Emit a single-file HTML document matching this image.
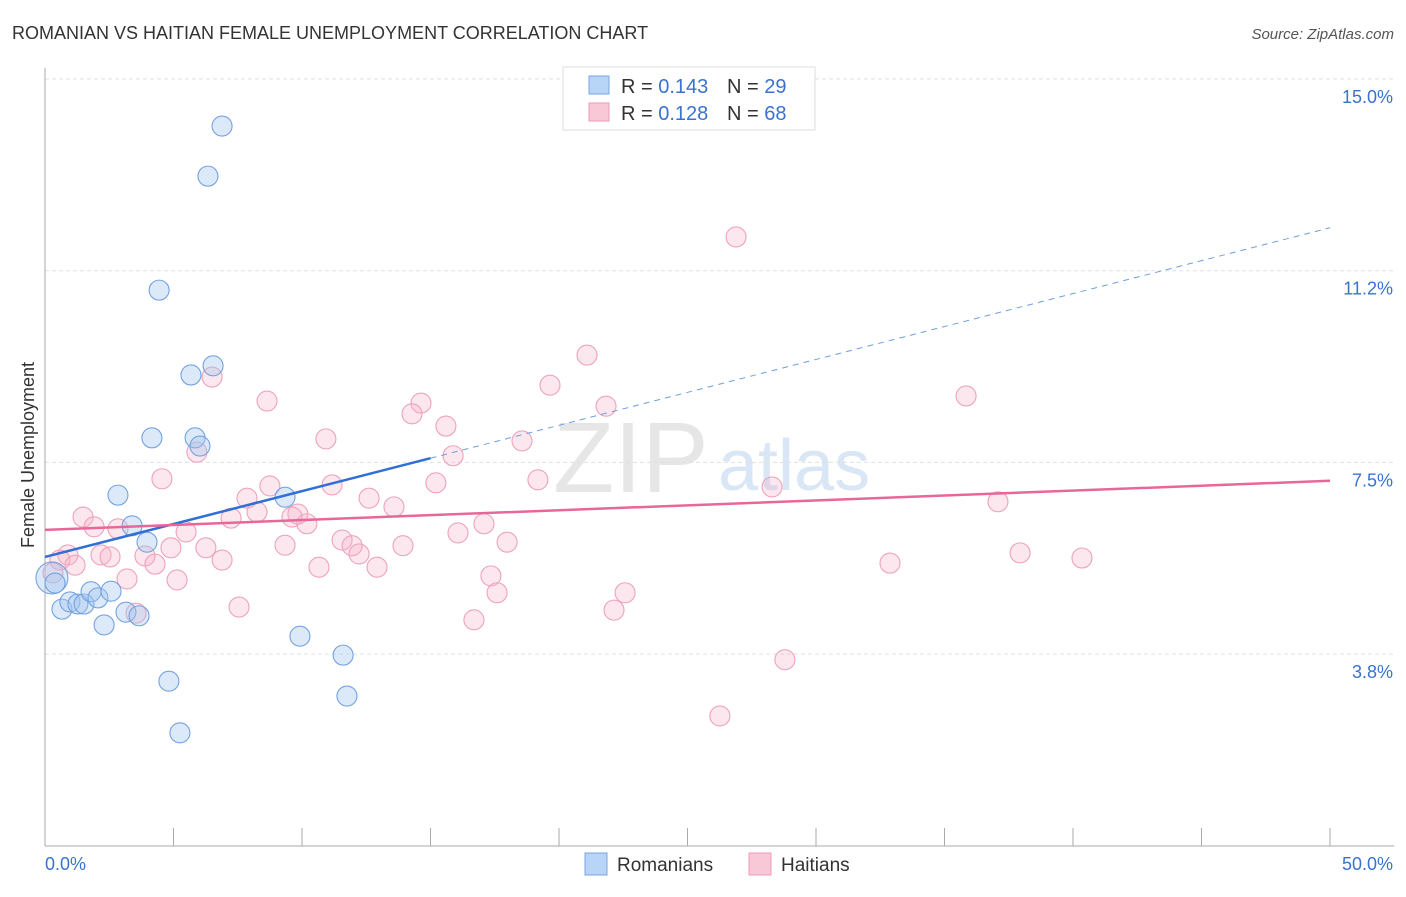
<!DOCTYPE html>
<html><head><meta charset="utf-8"><style>
body{margin:0;background:#fff;font-family:"Liberation Sans",sans-serif}
svg text{font-family:"Liberation Sans",sans-serif}
</style></head><body>
<svg width="1406" height="892" xmlns="http://www.w3.org/2000/svg">
<text x="12" y="39" font-size="18" fill="#333">ROMANIAN VS HAITIAN FEMALE UNEMPLOYMENT CORRELATION CHART</text>
<text x="1394" y="39" font-size="15" fill="#555" text-anchor="end" font-style="italic">Source: ZipAtlas.com</text>
<text x="553" y="492" font-size="100" fill="#e6e6e6" font-family="Liberation Serif">ZIP</text>
<text x="718" y="490" font-size="72" fill="#d9e6f5">atlas</text>
<g id="grid"></g>
<g id="axes"></g>
<g id="pts"></g>
<g id="trends"></g>
<text transform="translate(34,455) rotate(-90)" font-size="18" fill="#333" text-anchor="middle">Female Unemployment</text>
<g>
<rect x="563" y="67" width="252" height="63" fill="#fff" stroke="#ddd"/>
<rect x="589" y="76" width="20" height="18" fill="#b8d4f6" stroke="#7aa6e0"/>
<text x="621" y="93" font-size="20" fill="#333">R = <tspan fill="#3a72d0">0.143</tspan></text>
<text x="727" y="93" font-size="20" fill="#333">N = <tspan fill="#3a72d0">29</tspan></text>
<rect x="589" y="103" width="20" height="18" fill="#f8c8d6" stroke="#eb9ab4"/>
<text x="621" y="120" font-size="20" fill="#333">R = <tspan fill="#3a72d0">0.128</tspan></text>
<text x="727" y="120" font-size="20" fill="#333">N = <tspan fill="#3a72d0">68</tspan></text>
</g>
<g>
<rect x="585" y="853" width="22" height="22" fill="#b8d4f6" stroke="#7aa6e0"/>
<text x="617" y="871" font-size="19" fill="#333">Romanians</text>
<rect x="749" y="853" width="22" height="22" fill="#f8c8d6" stroke="#eb9ab4"/>
<text x="781" y="871" font-size="19" fill="#333">Haitians</text>
</g>
</svg>
<script>
const yTicks=[15.0,11.25,7.5,3.75];
const yTickLabels=["15.0%","11.2%","7.5%","3.8%"];
const xTickVals=[0,5,10,15,20,25,30,35,40,45,50];
const romX=[6.89,6.34,4.44,6.54,5.68,4.16,5.84,6.03,2.84,9.34,3.39,3.97,0.27,0.39,0.66,0.97,1.28,1.52,1.79,2.06,2.57,2.30,3.15,3.66,9.92,11.6,4.82,11.75,5.25];
const romY=[14.08,13.10,10.87,9.39,9.21,7.98,7.98,7.82,6.86,6.82,6.26,5.94,5.24,5.14,4.63,4.77,4.73,4.73,4.97,4.85,4.98,4.32,4.57,4.50,4.10,3.73,3.22,2.93,2.21];
const haiX=[26.89,21.09,19.65,6.50,35.84,8.64,14.63,21.83,14.28,15.60,10.93,18.56,5.91,15.88,4.55,15.21,19.18,8.75,11.17,28.29,7.86,12.61,37.08,13.58,8.25,7.24,9.84,9.61,1.48,10.19,1.91,2.84,5.49,16.07,17.08,11.56,17.98,9.34,11.95,13.93,4.90,6.26,2.18,0.89,12.22,2.53,3.89,37.94,0.58,1.17,40.35,6.89,4.28,32.88,10.66,12.92,17.35,3.19,5.14,17.59,22.57,7.55,22.14,3.54,16.69,28.79,26.26,0.31];
const haiY=[11.91,9.60,9.01,9.17,8.80,8.70,8.66,8.60,8.45,8.21,7.96,7.92,7.70,7.63,7.18,7.10,7.16,7.04,7.06,7.02,6.80,6.80,6.73,6.63,6.53,6.41,6.49,6.43,6.43,6.30,6.24,6.20,6.14,6.12,6.30,5.98,5.94,5.88,5.87,5.87,5.83,5.83,5.69,5.69,5.71,5.65,5.67,5.73,5.59,5.49,5.63,5.59,5.51,5.53,5.45,5.45,5.28,5.22,5.20,4.95,4.95,4.67,4.61,4.55,4.42,3.64,2.54,5.34];
const romTrend=[5.65,12.09], haiTrend=[6.18,7.14];
const NS="http://www.w3.org/2000/svg";
const X=v=>45+v/50*1285, Y=v=>79+(15-v)/3.75*191.7;
function mk(t,a,p){const e=document.createElementNS(NS,t);for(const k in a)e.setAttribute(k,a[k]);p.appendChild(e);return e;}
const grid=document.getElementById('grid'),axes=document.getElementById('axes'),pts=document.getElementById('pts'),tr=document.getElementById('trends');
yTicks.forEach((v,i)=>{const l=mk('line',{x1:45,x2:1394,y1:Y(v),y2:Y(v),stroke:'#e0e0e0','stroke-dasharray':'4,3'},grid);

const t=mk('text',{x:1393,y:Y(v)+24,'font-size':18,fill:'#3a72d0','text-anchor':'end'},axes);t.textContent=yTickLabels[i];
});
const ax=mk('line',{x1:45,x2:45,y1:68,y2:846,stroke:'#aaa'},axes);
const bx=mk('line',{x1:45,x2:1394,y1:846,y2:846,stroke:'#aaa'},axes);
xTickVals.forEach(v=>{const l=mk('line',{x1:X(v),x2:X(v),y1:828,y2:846,stroke:'#aaa'},axes);});
let t0=mk('text',{x:45,y:870,'font-size':18,fill:'#3a72d0'},axes);t0.textContent='0.0%';
let t1=mk('text',{x:1393,y:870,'font-size':18,fill:'#3a72d0','text-anchor':'end'},axes);t1.textContent='50.0%';
haiX.forEach((x,i)=>{const c=mk('circle',{cx:X(x),cy:Y(haiY[i]),r:10,fill:'rgba(246,176,198,0.3)',stroke:'#eda2bb','stroke-width':1.1},pts);
});
romX.forEach((x,i)=>{const c=mk('circle',{cx:X(x),cy:Y(romY[i]),r:i==12?16:10,fill:'rgba(160,196,240,0.38)',stroke:'#74a2e0','stroke-width':1.1},pts);
});
const ry=x=>romTrend[0]+(romTrend[1]-romTrend[0])*x/50;
let l1=mk('line',{x1:X(0),y1:Y(ry(0)),x2:X(15),y2:Y(ry(15)),stroke:'#2f6fd6','stroke-width':2.5},tr);
let l2=mk('line',{x1:X(15),y1:Y(ry(15)),x2:X(50),y2:Y(ry(50)),stroke:'#6f9fe0','stroke-width':1,'stroke-dasharray':'6,5'},tr);
let l3=mk('line',{x1:X(0),y1:Y(haiTrend[0]),x2:X(50),y2:Y(haiTrend[1]),stroke:'#e8679a','stroke-width':2.5},tr);
</script>
</body></html>
